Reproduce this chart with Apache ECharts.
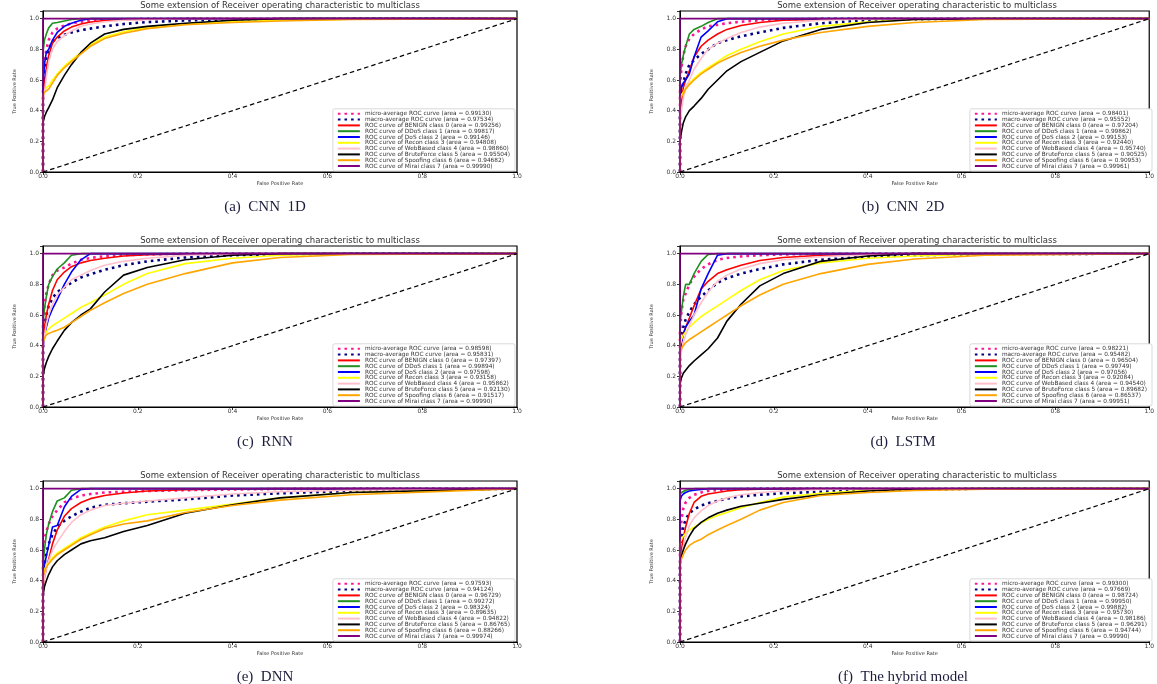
<!DOCTYPE html>
<html><head><meta charset="utf-8">
<script src="https://cdn.jsdelivr.net/npm/echarts@6/dist/echarts.min.js"></script>
<style>html,body{margin:0;padding:0;background:#fff}#c{width:1157px;height:684px}</style>
</head><body><div id="c"></div>
<script>
// ---------- data ----------
const fpr = [0, 0, 0.003, 0.007, 0.012, 0.02, 0.03, 0.045, 0.06, 0.08, 0.1, 0.13, 0.17, 0.22, 0.3, 0.4, 0.5, 0.65, 1.0];
const curveLabels = [
  'micro-average ROC curve', 'macro-average ROC curve',
  'ROC curve of BENIGN class 0', 'ROC curve of DDoS class 1', 'ROC curve of DoS class 2',
  'ROC curve of Recon class 3', 'ROC curve of WebBased class 4', 'ROC curve of BruteForce class 5',
  'ROC curve of Spoofing class 6', 'ROC curve of Mirai class 7'
];
const xTicks = ['0.0', '0.2', '0.4', '0.6', '0.8', '1.0'];
const yTicks = ['0.0', '0.2', '0.4', '0.6', '0.8', '1.0'];
const chartTitle = 'Some extension of Receiver operating characteristic to multiclass';
const xName = 'False Positive Rate';
const yName = 'True Positive Rate';
const captions = ['(a)  CNN  1D', '(b)  CNN  2D', '(c)  RNN', '(d)  LSTM', '(e)  DNN', '(f)  The hybrid model'];
const ONES = [0, 1, 1, 1, 1, 1, 1, 1, 1, 1, 1, 1, 1, 1, 1, 1, 1, 1, 1];

const aucCNN1D = ['0.99130','0.97534','0.99256','0.99817','0.99146','0.94808','0.98860','0.95504','0.94682','0.99990'];
const tprCNN1D = [
  [0, 0.55, 0.72, 0.8, 0.86, 0.91, 0.935, 0.955, 0.97, 0.98, 0.987, 0.993, 0.997, 0.999, 1, 1, 1, 1, 1],
  [0, 0.45, 0.62, 0.74, 0.8, 0.85, 0.875, 0.895, 0.91, 0.925, 0.935, 0.95, 0.965, 0.978, 0.988, 0.995, 0.999, 1, 1],
  [0, 0.45, 0.58, 0.68, 0.76, 0.84, 0.88, 0.92, 0.945, 0.965, 0.978, 0.988, 0.994, 0.997, 1, 1, 1, 1, 1],
  [0, 0.78, 0.86, 0.9, 0.94, 0.97, 0.975, 0.985, 0.995, 1, 1, 1, 1, 1, 1, 1, 1, 1, 1],
  [0, 0.55, 0.7, 0.78, 0.8, 0.86, 0.91, 0.95, 0.97, 0.99, 1, 1, 1, 1, 1, 1, 1, 1, 1],
  [0, 0.5, 0.53, 0.55, 0.56, 0.6, 0.64, 0.69, 0.73, 0.78, 0.83, 0.88, 0.915, 0.945, 0.965, 0.98, 0.99, 0.997, 1],
  [0, 0.42, 0.52, 0.62, 0.72, 0.8, 0.85, 0.89, 0.92, 0.95, 0.965, 0.98, 0.99, 0.995, 0.999, 1, 1, 1, 1],
  [0, 0.32, 0.36, 0.39, 0.42, 0.47, 0.55, 0.63, 0.7, 0.78, 0.84, 0.9, 0.93, 0.95, 0.97, 0.99, 1, 1, 1],
  [0, 0.5, 0.52, 0.53, 0.54, 0.58, 0.63, 0.68, 0.72, 0.77, 0.82, 0.87, 0.905, 0.935, 0.96, 0.975, 0.985, 0.995, 1],
  ONES
];

const aucCNN2D = ['0.98401','0.95552','0.97204','0.99862','0.99153','0.92440','0.95740','0.90525','0.90953','0.99961'];
const tprCNN2D = [
  [0, 0.55, 0.68, 0.76, 0.82, 0.87, 0.9, 0.93, 0.95, 0.96, 0.97, 0.98, 0.99, 0.995, 1, 1, 1, 1, 1],
  [0, 0.4, 0.5, 0.58, 0.64, 0.7, 0.73, 0.77, 0.8, 0.84, 0.86, 0.885, 0.91, 0.94, 0.97, 0.99, 0.997, 1, 1],
  [0, 0.35, 0.45, 0.55, 0.6, 0.66, 0.75, 0.82, 0.86, 0.9, 0.93, 0.955, 0.975, 0.99, 0.997, 1, 1, 1, 1],
  [0, 0.62, 0.7, 0.76, 0.82, 0.9, 0.93, 0.95, 0.975, 1, 1, 1, 1, 1, 1, 1, 1, 1, 1],
  [0, 0.45, 0.55, 0.58, 0.6, 0.64, 0.75, 0.88, 0.92, 0.98, 1, 1, 1, 1, 1, 1, 1, 1, 1],
  [0, 0.48, 0.5, 0.52, 0.55, 0.58, 0.61, 0.65, 0.68, 0.72, 0.76, 0.8, 0.85, 0.9, 0.95, 0.98, 0.995, 1, 1],
  [0, 0.3, 0.4, 0.48, 0.55, 0.6, 0.67, 0.74, 0.8, 0.84, 0.87, 0.91, 0.945, 0.97, 0.99, 0.998, 1, 1, 1],
  [0, 0.2, 0.26, 0.32, 0.36, 0.4, 0.43, 0.48, 0.54, 0.6, 0.66, 0.72, 0.78, 0.855, 0.93, 0.975, 0.995, 1, 1],
  [0, 0.47, 0.49, 0.51, 0.54, 0.57, 0.6, 0.64, 0.67, 0.71, 0.74, 0.78, 0.82, 0.86, 0.91, 0.95, 0.975, 0.995, 1],
  ONES
];

const aucRNN = ['0.98598','0.95831','0.97397','0.99894','0.97598','0.93158','0.95862','0.92130','0.91517','0.99990'];
const tprRNN = [
  [0, 0.55, 0.66, 0.74, 0.8, 0.86, 0.89, 0.91, 0.935, 0.96, 0.972, 0.983, 0.99, 0.995, 1, 1, 1, 1, 1],
  [0, 0.42, 0.52, 0.6, 0.66, 0.71, 0.75, 0.78, 0.81, 0.845, 0.865, 0.895, 0.925, 0.95, 0.975, 0.99, 0.997, 1, 1],
  [0, 0.42, 0.52, 0.6, 0.67, 0.76, 0.83, 0.88, 0.915, 0.94, 0.955, 0.97, 0.985, 0.993, 0.998, 1, 1, 1, 1],
  [0, 0.55, 0.64, 0.72, 0.8, 0.85, 0.9, 0.94, 0.99, 1, 1, 1, 1, 1, 1, 1, 1, 1, 1],
  [0, 0.38, 0.45, 0.52, 0.58, 0.64, 0.7, 0.8, 0.88, 0.96, 1, 1, 1, 1, 1, 1, 1, 1, 1],
  [0, 0.42, 0.46, 0.49, 0.51, 0.53, 0.55, 0.58, 0.61, 0.65, 0.68, 0.73, 0.8, 0.87, 0.935, 0.97, 0.99, 0.998, 1],
  [0, 0.38, 0.46, 0.54, 0.6, 0.67, 0.73, 0.78, 0.83, 0.86, 0.89, 0.925, 0.95, 0.97, 0.99, 0.998, 1, 1, 1],
  [0, 0.2, 0.25, 0.29, 0.33, 0.38, 0.43, 0.5, 0.55, 0.6, 0.64, 0.75, 0.86, 0.91, 0.96, 0.99, 1, 1, 1],
  [0, 0.42, 0.45, 0.47, 0.48, 0.49, 0.5, 0.52, 0.55, 0.59, 0.63, 0.68, 0.74, 0.8, 0.87, 0.94, 0.975, 0.995, 1],
  ONES
];

const aucLSTM = ['0.98221','0.95482','0.96504','0.99749','0.97056','0.92084','0.94540','0.89682','0.86537','0.99951'];
const tprLSTM = [
  [0, 0.5, 0.62, 0.7, 0.74, 0.8, 0.85, 0.9, 0.93, 0.96, 0.972, 0.982, 0.99, 0.995, 0.999, 1, 1, 1, 1],
  [0, 0.38, 0.46, 0.52, 0.57, 0.62, 0.67, 0.72, 0.76, 0.81, 0.84, 0.87, 0.9, 0.93, 0.96, 0.98, 0.99, 0.997, 1],
  [0, 0.32, 0.42, 0.48, 0.52, 0.58, 0.66, 0.77, 0.82, 0.87, 0.895, 0.925, 0.955, 0.975, 0.99, 0.997, 1, 1, 1],
  [0, 0.55, 0.62, 0.72, 0.8, 0.8, 0.87, 0.95, 0.995, 1, 1, 1, 1, 1, 1, 1, 1, 1, 1],
  [0, 0.35, 0.42, 0.47, 0.52, 0.56, 0.6, 0.77, 0.87, 0.99, 1, 1, 1, 1, 1, 1, 1, 1, 1],
  [0, 0.4, 0.44, 0.47, 0.49, 0.52, 0.55, 0.59, 0.62, 0.66, 0.7, 0.76, 0.83, 0.89, 0.94, 0.97, 0.985, 0.997, 1],
  [0, 0.28, 0.36, 0.42, 0.47, 0.53, 0.6, 0.68, 0.75, 0.82, 0.86, 0.9, 0.935, 0.96, 0.98, 0.993, 0.999, 1, 1],
  [0, 0.15, 0.19, 0.22, 0.24, 0.27, 0.3, 0.34, 0.38, 0.45, 0.56, 0.67, 0.79, 0.87, 0.95, 0.985, 1, 1, 1],
  [0, 0.35, 0.38, 0.4, 0.42, 0.44, 0.46, 0.49, 0.52, 0.56, 0.6, 0.66, 0.73, 0.8, 0.87, 0.93, 0.965, 0.99, 1],
  ONES
];

const aucDNN = ['0.97593','0.94124','0.96729','0.99272','0.98324','0.89635','0.94822','0.86765','0.88266','0.99974'];
const tprDNN = [
  [0, 0.55, 0.67, 0.72, 0.77, 0.82, 0.86, 0.91, 0.935, 0.955, 0.965, 0.975, 0.98, 0.985, 0.99, 0.995, 0.998, 1, 1],
  [0, 0.4, 0.5, 0.58, 0.64, 0.7, 0.75, 0.79, 0.82, 0.85, 0.875, 0.895, 0.905, 0.915, 0.93, 0.955, 0.97, 0.985, 1],
  [0, 0.35, 0.42, 0.48, 0.54, 0.64, 0.73, 0.82, 0.87, 0.91, 0.935, 0.955, 0.972, 0.985, 0.993, 0.998, 1, 1, 1],
  [0, 0.5, 0.6, 0.7, 0.77, 0.85, 0.92, 0.94, 0.99, 1, 1, 1, 1, 1, 1, 1, 1, 1, 1],
  [0, 0.42, 0.5, 0.56, 0.63, 0.75, 0.76, 0.88, 0.95, 0.995, 1, 1, 1, 1, 1, 1, 1, 1, 1],
  [0, 0.44, 0.47, 0.5, 0.52, 0.55, 0.58, 0.61, 0.64, 0.68, 0.71, 0.75, 0.79, 0.83, 0.86, 0.9, 0.94, 0.975, 1],
  [0, 0.35, 0.42, 0.48, 0.53, 0.6, 0.65, 0.72, 0.78, 0.83, 0.86, 0.89, 0.905, 0.92, 0.94, 0.965, 0.98, 0.99, 1],
  [0, 0.3, 0.36, 0.4, 0.44, 0.49, 0.53, 0.57, 0.6, 0.64, 0.66, 0.68, 0.72, 0.76, 0.84, 0.895, 0.94, 0.975, 1],
  [0, 0.43, 0.46, 0.49, 0.51, 0.54, 0.57, 0.6, 0.63, 0.67, 0.7, 0.74, 0.77, 0.79, 0.845, 0.89, 0.925, 0.96, 1],
  ONES
];

const aucHybrid = ['0.99300','0.97669','0.98724','0.99950','0.99882','0.95730','0.98186','0.96291','0.94744','0.99990'];
const tprHybrid = [
  [0, 0.6, 0.8, 0.87, 0.91, 0.94, 0.96, 0.975, 0.985, 0.99, 0.995, 0.998, 1, 1, 1, 1, 1, 1, 1],
  [0, 0.5, 0.66, 0.75, 0.8, 0.84, 0.865, 0.89, 0.905, 0.92, 0.935, 0.95, 0.96, 0.97, 0.98, 0.99, 0.995, 1, 1],
  [0, 0.5, 0.6, 0.68, 0.75, 0.84, 0.91, 0.95, 0.965, 0.975, 0.985, 0.993, 0.997, 1, 1, 1, 1, 1, 1],
  [0, 0.96, 0.975, 0.985, 0.99, 0.995, 1, 1, 1, 1, 1, 1, 1, 1, 1, 1, 1, 1, 1],
  [0, 0.92, 0.95, 0.965, 0.975, 0.985, 0.99, 0.995, 1, 1, 1, 1, 1, 1, 1, 1, 1, 1, 1],
  [0, 0.64, 0.67, 0.69, 0.71, 0.73, 0.75, 0.775, 0.8, 0.825, 0.845, 0.875, 0.91, 0.945, 0.97, 0.99, 0.997, 1, 1],
  [0, 0.45, 0.55, 0.62, 0.68, 0.76, 0.81, 0.855, 0.89, 0.92, 0.94, 0.96, 0.975, 0.985, 0.995, 1, 1, 1, 1],
  [0, 0.5, 0.56, 0.6, 0.64, 0.69, 0.74, 0.78, 0.81, 0.84, 0.86, 0.885, 0.905, 0.93, 0.96, 0.985, 0.998, 1, 1],
  [0, 0.5, 0.54, 0.57, 0.6, 0.63, 0.65, 0.67, 0.7, 0.73, 0.76, 0.8, 0.86, 0.91, 0.955, 0.975, 0.988, 0.997, 1],
  ONES
];

const panelTprs = [tprCNN1D, tprCNN2D, tprRNN, tprLSTM, tprDNN, tprHybrid];
const panelAucs = [aucCNN1D, aucCNN2D, aucRNN, aucLSTM, aucDNN, aucHybrid];

// ---------- styling / layout ----------
const W = 1157, H = 684;
const colors = ['#ff1493', '#000080', '#ff0000', '#1f8f1f', '#0000ff', '#ffff00', '#ffc0cb', '#000000', '#ffa500', '#800080'];
const colLeft = [43, 680], plotW = 474;
const rowTop = [11, 246, 481], plotH = 161;
const FONT = 'DejaVu Sans';

const option = {
  animation: false,
  backgroundColor: '#fff',
  grid: [], xAxis: [], yAxis: [], series: [], legend: [], graphic: []
};

panelTprs.forEach((tprs, p) => {
  const col = p % 2, row = Math.floor(p / 2);
  const left = colLeft[col], top = rowTop[row];
  option.grid.push({ left, top, width: plotW, height: plotH, show: true, borderColor: '#000', borderWidth: 1.2, backgroundColor: 'transparent' });
  option.xAxis.push({
    gridIndex: p, type: 'value', min: 0, max: 1, interval: 0.2,
    name: xName, nameLocation: 'middle', nameGap: 9,
    nameTextStyle: { fontSize: 5, color: '#333', fontFamily: FONT },
    axisLine: { lineStyle: { color: '#000', width: 1 } },
    axisTick: { length: 3, lineStyle: { color: '#000', width: 0.8 } },
    axisLabel: { fontSize: 6, margin: 1.5, color: '#333', fontFamily: FONT,
      formatter: v => xTicks[Math.round(v / 0.2)] || '' },
    splitLine: { show: false }
  });
  option.yAxis.push({
    gridIndex: p, type: 'value', min: 0, max: 1.05, interval: 0.2,
    name: yName, nameLocation: 'middle', nameGap: 26, nameRotate: 90,
    nameTextStyle: { fontSize: 5, color: '#333', fontFamily: FONT },
    axisLine: { lineStyle: { color: '#000', width: 1 } },
    axisTick: { length: 3, lineStyle: { color: '#000', width: 0.8 } },
    axisLabel: { fontSize: 6, margin: 4, color: '#333', fontFamily: FONT,
      formatter: v => (Math.abs(v - 1.05) < 1e-6 ? '' : (yTicks[Math.round(v / 0.2)] || '')) },
    splitLine: { show: false }
  });
  const names = [];
  tprs.forEach((tpr, k) => {
    const name = curveLabels[k] + ' (area = ' + panelAucs[p][k] + ')';
    names.push(name);
    const dotted = k < 2;
    option.series.push({
      type: 'line', name, xAxisIndex: p, yAxisIndex: p,
      data: fpr.map((x, i) => [x, tpr[i]]),
      symbol: 'none', smooth: false, z: 2 + k * 0.01,
      lineStyle: dotted
        ? { color: colors[k], width: 2.6, type: [2.6, 4], cap: 'butt' }
        : { color: colors[k], width: 1.6 },
      itemStyle: { color: colors[k] }
    });
  });
  option.series.push({
    type: 'line', name: 'chance ' + p, xAxisIndex: p, yAxisIndex: p,
    data: [[0, 0], [1, 1]], symbol: 'none', z: 3,
    lineStyle: { color: '#000', width: 1.2, type: [4.5, 3] }
  });
  option.legend.push({
    data: names, orient: 'vertical',
    right: W - (left + plotW) + 2, bottom: H - (top + plotH) + 1,
    itemGap: -0.2, itemWidth: 22, itemHeight: 4,
    padding: [2, 5, 2, 4],
    itemStyle: { opacity: 0 },
    backgroundColor: '#fff', borderColor: '#c8c8c8', borderWidth: 0.7, borderRadius: 2,
    textStyle: { fontSize: 5.8, lineHeight: 5.4, color: '#333', fontFamily: FONT },
    selectedMode: false
  });
  option.graphic.push({
    type: 'text', x: left + plotW / 2, y: top - 5,
    style: { text: chartTitle, fontSize: 8.5, fontFamily: FONT, fill: '#333', align: 'center', verticalAlign: 'middle' }
  });
  option.graphic.push({
    type: 'text', x: col === 0 ? 265 : 903, y: top + plotH + 35,
    style: { text: captions[p], fontSize: 15, fontFamily: 'Liberation Serif', fill: '#1c1c3c', align: 'center', verticalAlign: 'middle' }
  });
});

const chart = echarts.init(document.getElementById('c'), null, { renderer: 'canvas' });
chart.setOption(option);
</script>
</body></html>
